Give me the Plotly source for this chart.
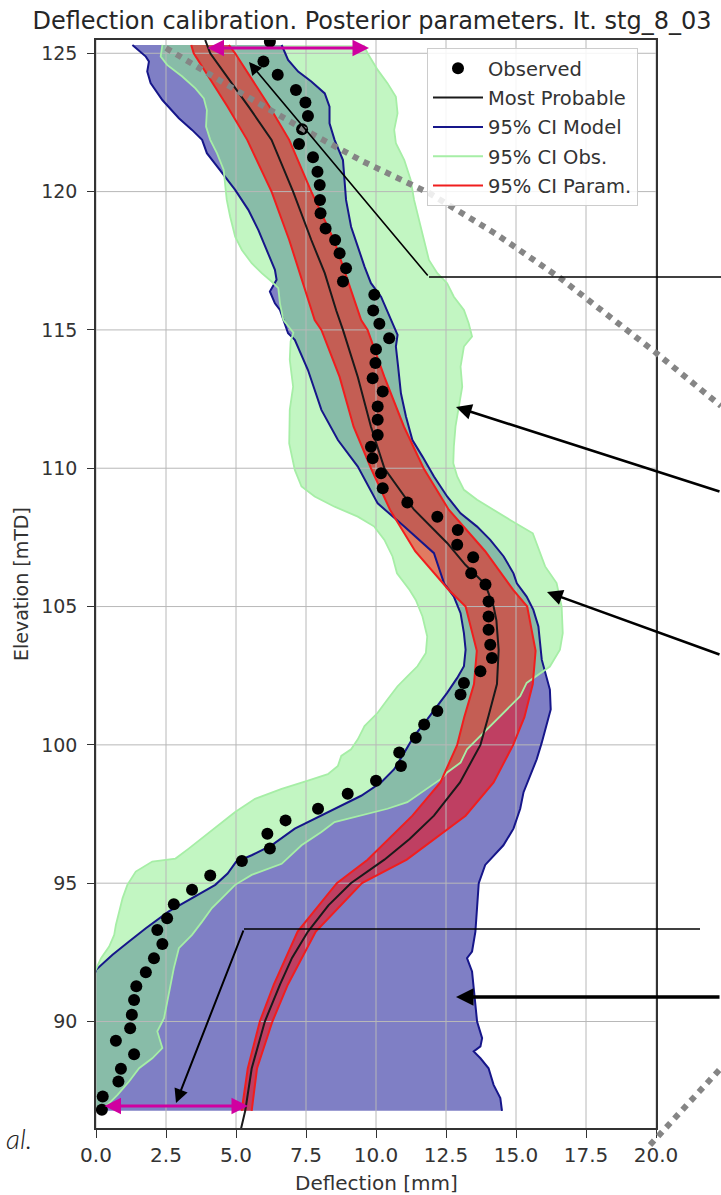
import plotly.graph_objects as go

# ---------------- canvas / layout geometry ----------------
W, H = 721, 1195
ML, MR, MT, MB = 96, 65, 40, 67
PW, PH = W - ML - MR, H - MT - MB

def px(x):
    return (x - ML) / PW

def py(y):
    return 1 - (y - MT) / PH

X_RANGE = [0, 20]
Y_RANGE = [86.15, 125.48]

# ---------------- data ----------------
x_ticks = [0, 2.5, 5, 7.5, 10, 12.5, 15, 17.5, 20]
x_tick_text = ["0.0", "2.5", "5.0", "7.5", "10.0", "12.5", "15.0", "17.5", "20.0"]
y_ticks = [90, 95, 100, 105, 110, 115, 120, 125]
y_tick_text = ["90", "95", "100", "105", "110", "115", "120", "125"]

# Observed deflection points
obs_elev = [86.81, 87.29, 87.83, 88.29, 88.82, 89.30, 89.76, 90.24, 90.78, 91.27, 91.78, 92.29,
            92.80, 93.31, 93.73, 94.24, 94.76, 95.28, 95.80, 96.25, 96.79, 97.27, 97.69, 98.23,
            98.70, 99.24, 99.72, 100.26, 100.74, 101.22, 101.82, 102.24, 102.66, 103.14, 103.62,
            104.16, 104.64, 105.18, 105.80, 106.20, 106.78, 107.23, 107.77, 108.25, 108.76,
            109.28, 109.82, 110.36, 110.78, 111.20, 111.75, 112.23, 112.77, 113.25, 113.80,
            114.30, 114.70, 115.22, 115.70, 116.27, 116.75, 117.23, 117.77, 118.25, 118.67,
            119.22, 119.70, 120.24, 120.72, 121.24, 121.72, 122.25, 122.73, 123.22, 123.67,
            124.22, 124.70, 125.42]
obs_defl = [0.21, 0.24, 0.80, 0.89, 1.36, 0.71, 1.22, 1.28, 1.36, 1.44, 1.78, 2.07,
            2.37, 2.19, 2.54, 2.78, 3.43, 4.08, 5.21, 6.21, 6.12, 6.77, 7.93, 8.99,
            10.00, 10.89, 10.83, 11.42, 11.72, 12.19, 13.02, 13.14, 13.73, 14.14, 14.08,
            14.02, 14.02, 14.02, 13.91, 13.40, 13.47, 12.90, 12.92, 12.19, 11.12,
            10.24, 10.18, 9.88, 9.82, 10.06, 10.06, 10.06, 10.24, 9.88, 9.98,
            10.00, 10.47, 10.12, 9.90, 9.94, 8.82, 8.93, 8.70, 8.54, 8.20,
            8.02, 8.00, 7.99, 7.91, 7.75, 7.25, 7.36, 7.57, 7.48, 7.14,
            6.49, 5.98, 6.21]

# Most probable model curve
mp_elev = [86.0, 86.77, 88.3, 90.0, 91.33, 92.3, 93.25, 94.2, 95.0, 95.85, 96.6, 97.44, 98.64,
           100.0, 101.05, 102.2, 103.43, 104.5, 105.0, 105.8, 106.5, 107.3, 108.5, 110.0,
           111.5, 113.3, 115.0, 115.7, 117.05, 118.25, 120.0, 121.87, 123.07, 125.0, 125.48]
mp_defl = [5.15, 5.33, 5.56, 6.03, 6.57, 7.00, 7.57, 8.30, 9.10, 10.30, 11.20, 12.07, 13.00,
           13.73, 14.02, 14.32, 14.38, 14.30, 14.20, 13.90, 13.20, 12.54, 11.36, 10.30,
           9.82, 9.35, 8.82, 8.58, 8.17, 7.69, 7.04, 6.27, 5.45, 4.08, 3.90]

# 95% CI Model: lower edge
mod_lo_elev = [86.77, 89.0, 91.0, 91.87, 92.41, 92.89, 93.37, 93.98, 94.46, 94.94, 95.35, 95.77,
               96.01, 96.37, 96.97, 97.44, 97.80, 98.16, 98.64, 99.12, 99.72, 100.32, 100.92,
               101.40, 101.88, 102.42, 102.84, 103.44, 104.04, 104.76, 105.36, 105.84, 106.93,
               107.89, 108.73, 110.06, 111.02, 112.11, 113.55, 114.64, 114.88, 115.72, 115.96,
               116.39, 116.81, 117.17, 118.01, 118.61, 119.34, 120.06, 120.84, 121.39, 121.87,
               122.23, 122.65, 123.31, 123.92, 124.34, 124.70, 124.88, 125.30]
mod_lo_defl = [-1.0, -0.6, -0.25, 0.00, 0.59, 1.18, 1.78, 2.60, 3.43, 4.26, 4.70, 5.00,
               5.56, 6.27, 7.10, 8.05, 8.76, 9.47, 10.18, 10.65, 11.01, 11.36, 11.83,
               12.19, 12.54, 12.90, 13.14, 13.20, 13.14, 13.02, 12.78, 12.43, 12.07,
               11.01, 10.06, 9.35, 8.64, 8.05, 7.57, 7.10, 6.86, 6.57, 6.39,
               6.21, 6.45, 6.39, 6.04, 5.80, 5.44, 4.97, 4.38, 3.96, 3.79,
               3.43, 2.96, 2.37, 1.95, 1.83, 1.89, 1.78, 1.30]
# 95% CI Model: upper edge
mod_hi_elev = [86.77, 87.23, 87.71, 88.31, 88.67, 88.92, 89.10, 89.40, 90.0, 91.08, 91.81, 92.29,
               92.53, 93.25, 93.98, 95.0, 95.66, 96.37, 96.97, 97.69, 98.29, 98.88, 99.48,
               100.08, 100.68, 101.28, 102.0, 102.6, 103.08, 103.68, 104.28, 104.88, 105.36,
               105.84, 106.2, 106.81, 107.41, 107.89, 108.37, 108.98, 109.70, 110.42, 111.02,
               111.87, 112.71, 113.67, 114.40, 114.82, 115.24, 115.72, 116.20, 116.69, 117.29,
               118.01, 118.73, 119.70, 120.42, 121.14, 121.87, 122.47, 123.07, 123.55, 123.98,
               124.34, 124.76, 125.30]
mod_hi_defl = [14.50, 14.44, 14.20, 14.02, 13.73, 13.49, 13.73, 13.79, 13.61, 13.49, 13.43, 13.25,
               13.43, 13.55, 13.61, 13.67, 13.90, 14.55, 14.91, 15.15, 15.27, 15.50, 15.74,
               15.92, 16.09, 16.24, 16.21, 16.04, 15.92, 15.86, 15.80, 15.62, 15.38,
               15.03, 14.91, 14.56, 14.08, 13.61, 13.02, 12.54, 12.07, 11.66, 11.30,
               11.07, 10.89, 10.79, 10.71, 10.77, 10.59, 10.41, 10.18, 9.82, 9.59,
               9.35, 9.11, 8.93, 8.88, 8.82, 8.52, 8.34, 8.34, 8.17, 7.69,
               7.22, 6.86, 6.63]

# 95% CI Obs.: lower edge
obsci_lo_elev = [86.77, 89.0, 91.0, 92.29, 92.71, 93.13, 93.49, 93.98, 94.46, 94.94, 95.42, 95.78,
                 95.89, 96.25, 96.73, 97.09, 97.57, 98.05, 98.41, 98.71, 98.94, 99.24, 99.60,
                 99.84, 100.20, 100.68, 101.16, 101.64, 102.12, 102.48, 102.84, 103.32, 103.92,
                 104.64, 105.24, 105.60, 106.20, 106.81, 107.41, 107.89, 108.25, 108.61, 108.98,
                 109.34, 109.94, 110.90, 112.11, 112.95, 113.92, 114.58, 114.90, 115.36, 115.96,
                 116.51, 116.75, 117.05, 117.41, 117.89, 118.37, 119.10, 119.70, 120.18, 120.78,
                 121.39, 121.87, 122.35, 122.95, 123.37, 123.73, 124.16, 124.58, 124.88, 125.30]
obsci_lo_defl = [-0.8, -0.7, -0.4, 0.18, 0.47, 0.65, 0.71, 0.83, 0.95, 1.12, 1.42, 2.01,
                 2.84, 3.31, 3.91, 4.38, 4.97, 5.68, 6.63, 7.57, 8.28, 8.64, 8.76,
                 9.11, 9.35, 9.59, 10.06, 10.41, 10.77, 11.12, 11.48, 11.78, 11.83,
                 11.66, 11.42, 11.20, 10.75, 10.59, 10.30, 9.94, 9.35, 8.52, 7.81,
                 7.34, 7.10, 6.90, 6.92, 7.04, 6.92, 6.95, 7.05, 6.69, 6.57,
                 6.51, 6.27, 5.92, 5.56, 5.21, 4.97, 4.79, 4.67, 4.62, 4.56,
                 4.32, 4.08, 3.93, 3.96, 3.85, 3.55, 3.08, 2.54, 2.31, 2.37]
# 95% CI Obs.: upper edge
obsci_hi_elev = [86.77, 86.99, 87.35, 87.83, 88.31, 88.67, 89.04, 89.64, 90.12, 90.72, 91.33, 91.93,
                 92.65, 93.13, 93.61, 94.10, 94.46, 94.94, 95.30, 95.70, 96.37, 96.85, 97.21,
                 97.45, 97.69, 97.93, 98.41, 98.76, 99.00, 99.36, 99.84, 100.32, 100.80, 101.28,
                 101.76, 102.24, 102.60, 102.83, 103.44, 104.04, 105.00, 105.85, 106.45, 107.65,
                 108.13, 108.49, 108.86, 109.22, 109.70, 110.18, 110.78, 111.51, 112.23, 112.95,
                 113.67, 114.40, 114.76, 115.24, 115.72, 116.20, 116.69, 117.05, 117.53, 118.25,
                 118.98, 119.70, 120.42, 121.14, 121.75, 122.23, 122.83, 123.43, 123.92, 124.40,
                 125.00, 125.30]
obsci_hi_defl = [0.24, 0.41, 0.77, 1.18, 1.54, 2.01, 2.37, 2.19, 2.43, 2.54, 2.66, 2.78,
                 2.96, 3.43, 3.79, 4.14, 4.50, 4.97, 5.56, 6.63, 7.34, 8.05, 8.52,
                 9.47, 10.41, 11.12, 11.83, 12.31, 12.54, 13.02, 13.25, 13.73, 14.20, 14.67,
                 15.15, 15.38, 15.90, 16.21, 16.57, 16.67, 16.63, 16.45, 16.04, 15.60,
                 14.79, 14.20, 13.61, 13.14, 12.90, 12.76, 12.78, 12.84, 12.96, 13.08,
                 13.02, 13.14, 13.43, 13.31, 13.14, 12.78, 12.54, 12.19, 11.89, 11.72,
                 11.54, 11.36, 11.24, 11.01, 10.71, 10.65, 10.77, 10.71, 10.41, 10.06,
                 9.70, 9.55]

# 95% CI Param.: lower / upper edges
par_elev = [86.77, 88.3, 90.0, 91.33, 93.25, 95.0, 95.85, 97.44, 98.64, 100.0, 101.0, 102.2,
            103.4, 105.0, 105.6, 107.0, 108.5, 110.0, 111.5, 113.3, 115.0, 115.36, 118.25,
            120.0, 121.87, 123.07, 125.0, 125.3]
par_lo_defl = [5.20, 5.42, 5.85, 6.35, 7.20, 8.60, 9.70, 11.30, 12.30, 12.90, 13.15, 13.50,
               13.60, 13.20, 12.60, 11.40, 10.50, 9.82, 9.20, 8.70, 8.05, 7.81, 6.90,
               6.27, 5.40, 4.70, 3.49, 3.40]
par_hi_defl = [5.56, 5.75, 6.30, 6.85, 7.85, 9.50, 11.10, 13.20, 14.20, 14.90, 15.30, 15.60,
               15.70, 15.40, 14.90, 13.90, 12.60, 11.70, 11.00, 10.30, 9.70, 9.47, 8.50,
               7.69, 6.90, 6.20, 4.97, 4.75]

# ---------------- styles ----------------
BLUE_FILL = "rgba(0,0,139,0.5)"
BLUE_LINE = "#16168a"
GREEN_FILL = "rgba(144,238,144,0.55)"
GREEN_LINE = "#a6eea6"
RED_FILL = "rgba(255,0,0,0.5)"
RED_LINE = "#f01e1e"
GRID = "#b8b8b8"
AXC = "#333333"
FONT = "DejaVu Sans"

fig = go.Figure()


def band(lo_e, lo_d, hi_e, hi_d, color):
    fig.add_trace(go.Scatter(
        x=list(lo_d) + list(hi_d)[::-1], y=list(lo_e) + list(hi_e)[::-1],
        mode="lines", fill="toself", fillcolor=color, line=dict(width=0),
        hoverinfo="skip", showlegend=False))


band(mod_lo_elev, mod_lo_defl, mod_hi_elev, mod_hi_defl, BLUE_FILL)
band(obsci_lo_elev, obsci_lo_defl, obsci_hi_elev, obsci_hi_defl, GREEN_FILL)
band(par_elev, par_lo_defl, par_elev, par_hi_defl, RED_FILL)

# gridlines drawn above the translucent fills (as matplotlib does)
for v in x_ticks:
    fig.add_trace(go.Scatter(x=[v, v], y=Y_RANGE, mode="lines", line=dict(color=GRID, width=1),
                             hoverinfo="skip", showlegend=False))
for v in y_ticks:
    fig.add_trace(go.Scatter(x=X_RANGE, y=[v, v], mode="lines", line=dict(color=GRID, width=1),
                             hoverinfo="skip", showlegend=False))


def edge(e, d, color, width, name=None, rank=None):
    fig.add_trace(go.Scatter(
        x=d, y=e, mode="lines", line=dict(color=color, width=width),
        name=name, showlegend=name is not None, legendgroup=name or None,
        legendrank=rank if rank else 1000, hoverinfo="skip"))


edge(mod_lo_elev, mod_lo_defl, BLUE_LINE, 2, "95% CI Model", 3)
edge(mod_hi_elev, mod_hi_defl, BLUE_LINE, 2)
edge(obsci_lo_elev, obsci_lo_defl, GREEN_LINE, 1.8, "95% CI Obs.", 4)
edge(obsci_hi_elev, obsci_hi_defl, GREEN_LINE, 1.8)
edge(par_elev, par_lo_defl, RED_LINE, 2, "95% CI Param.", 5)
edge(par_elev, par_hi_defl, RED_LINE, 2)

fig.add_trace(go.Scatter(x=mp_defl, y=mp_elev, mode="lines", name="Most Probable",
                         line=dict(color="#1a1a1a", width=2), legendgroup="mp", legendrank=2))
fig.add_trace(go.Scatter(x=obs_defl, y=obs_elev, mode="markers", name="Observed",
                         marker=dict(color="black", size=12), legendgroup="obs", legendrank=1))

# ---------------- overlay annotations (slide decorations) ----------------
shapes = []
annotations = []

# grey dotted callout lines
dot_upper = [(166, 48), (229, 86), (303, 129), (362, 161), (429, 193), (496, 234), (560, 278),
             (655, 352), (721, 406)]
dot_lower = [(650, 1145), (721, 1068)]
for pts in (dot_upper, dot_lower):
    path = "M " + " L ".join(f"{px(a):.5f},{py(b):.5f}" for a, b in pts)
    shapes.append(dict(type="path", xref="paper", yref="paper", path=path,
                       line=dict(color="#858585", width=6, dash="dot")))

# thin black connector lines
for (x0, y0, x1, y1, w) in [(721, 277, 429, 277, 1.5), (700, 929, 244, 929, 1.5)]:
    shapes.append(dict(type="line", xref="paper", yref="paper", x0=px(x0), y0=py(y0),
                       x1=px(x1), y1=py(y1), line=dict(color="black", width=w)))


def arrow(hx, hy, tx, ty, color="black", width=2, double=False, size=1.0):
    a = dict(x=px(hx), y=py(hy), xref="paper", yref="paper", ax=tx - hx, ay=ty - hy,
             axref="pixel", ayref="pixel", text="", showarrow=True, arrowhead=2,
             arrowsize=size, arrowwidth=width, arrowcolor=color, standoff=0, startstandoff=0)
    if double:
        a.update(arrowside="end+start", startarrowhead=2, startarrowsize=size)
    annotations.append(a)


arrow(249, 62, 429, 277, width=1.6, size=1.6)
arrow(456, 407, 721, 492, width=2.6, size=1.2)
arrow(547, 592, 721, 655, width=2.6, size=1.2)
arrow(176, 1103, 244, 929, width=2.0, size=1.4)
arrow(456, 997, 721, 997, width=3.5, size=1.0)
arrow(369, 48, 206, 48, color="#d000a0", width=3, double=True, size=1.1)
arrow(248, 1106, 103, 1106, color="#d000a0", width=3, double=True, size=1.1)

# axis titles and partial slide text
annotations.append(dict(text="Deflection [mm]", x=px(376), y=py(1183), xref="paper", yref="paper",
                        xanchor="center", yanchor="middle", showarrow=False,
                        font=dict(family=FONT, size=20, color=AXC)))
annotations.append(dict(text="Elevation [mTD]", x=px(21), y=py(584), xref="paper", yref="paper",
                        xanchor="center", yanchor="middle", showarrow=False, textangle=-90,
                        font=dict(family=FONT, size=19, color=AXC)))
annotations.append(dict(text="al.", x=px(4), y=py(1138), xref="paper", yref="paper",
                        xanchor="left", yanchor="middle", showarrow=False,
                        font=dict(family="Lato", size=28, color="#222", style="italic", weight=300)))

fig.update_layout(
    width=W, height=H,
    margin=dict(l=ML, r=MR, t=MT, b=MB, pad=0),
    paper_bgcolor="white", plot_bgcolor="white",
    title=dict(text="Deflection calibration. Posterior parameters. It. stg_8_03",
               x=px(372), xref="paper", xanchor="center", y=1 - 21 / H, yref="container",
               yanchor="middle", font=dict(family=FONT, size=24, color="#262626")),
    showlegend=True,
    legend=dict(x=px(427), y=py(48), xanchor="left", yanchor="top",
                bgcolor="rgba(255,255,255,0.85)", bordercolor="#cccccc", borderwidth=1,
                font=dict(family=FONT, size=19.5, color=AXC), tracegroupgap=1,
                traceorder="grouped", itemwidth=50),
    shapes=shapes,
    annotations=annotations,
)

fig.update_xaxes(range=X_RANGE, tickvals=x_ticks, ticktext=x_tick_text, showgrid=False,
                 zeroline=False, showline=True, linecolor=AXC, linewidth=1.5, mirror=True,
                 ticks="outside", ticklen=8, tickwidth=1.2, tickcolor=AXC,
                 tickfont=dict(family=FONT, size=20, color=AXC))
fig.update_yaxes(range=Y_RANGE, tickvals=y_ticks, ticktext=y_tick_text, showgrid=False,
                 zeroline=False, showline=True, linecolor=AXC, linewidth=1.5, mirror=True,
                 ticks="outside", ticklen=7, tickwidth=1.2, tickcolor=AXC, ticklabelstandoff=6,
                 tickfont=dict(family=FONT, size=19, color=AXC))

# remove the default 8px page margin so the figure sits at the window origin
fig.write_html("out.html", config={"displayModeBar": False},
               post_script="document.body.style.margin='0px';")
